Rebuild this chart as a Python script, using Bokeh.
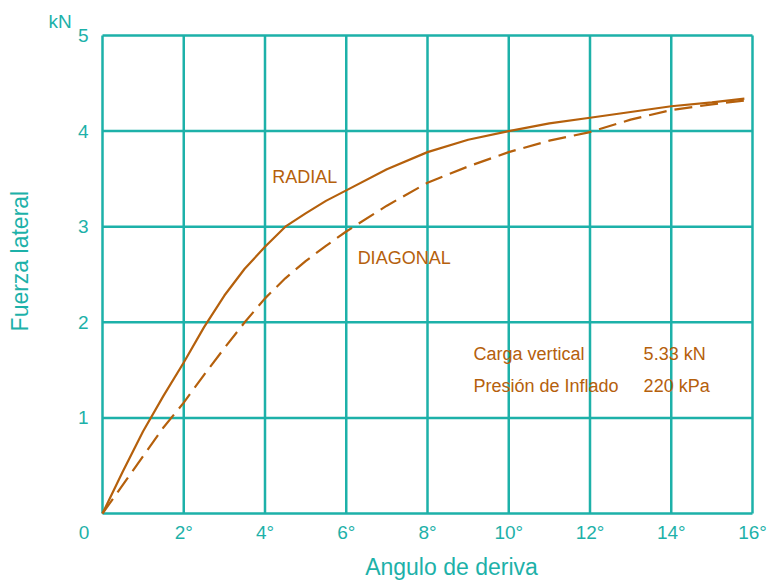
import math
from bokeh.plotting import figure
from bokeh.models import Range1d, ColumnDataSource
from bokeh.core.properties import value
from bokeh.embed import file_html
from bokeh.resources import INLINE

# Lateral force (kN) versus slip angle (degrees) for two tyre constructions
angle_deg = [0, 0.5, 1, 1.5, 2, 2.5, 3, 3.5, 4, 4.5, 5, 5.5, 6, 7, 8, 9, 10, 11, 12, 13, 14, 15, 15.8]
radial_kn = [0, 0.44, 0.86, 1.23, 1.58, 1.95, 2.28, 2.56, 2.79, 3.0, 3.14, 3.27, 3.38, 3.6,
             3.78, 3.91, 4.0, 4.08, 4.14, 4.2, 4.26, 4.3, 4.34]
diagonal_kn = [0, 0.3, 0.6, 0.9, 1.16, 1.45, 1.73, 2.0, 2.25, 2.46, 2.64, 2.8, 2.95, 3.22,
               3.46, 3.63, 3.78, 3.9, 3.99, 4.12, 4.22, 4.28, 4.32]

x_ticks = [2, 4, 6, 8, 10, 12, 14, 16]
x_tick_labels = ["2°", "4°", "6°", "8°", "10°", "12°", "14°", "16°"]
y_ticks = [1, 2, 3, 4, 5]
y_tick_labels = ["1", "2", "3", "4", "5"]
x_max, y_max = 16, 5

TEAL = "#1DB1A9"
BROWN = "#B5600C"
FONT = "Liberation Sans"

# The frame fills the whole canvas; the chart box spans 0..16 deg and 0..5 kN,
# leaving room around it for the hand-placed tick labels and titles.
p = figure(width=771, height=581,
           x_range=Range1d(-2.5108, 16.4677), y_range=Range1d(-0.7113, 5.3661),
           x_axis_location=None, y_axis_location=None,
           output_backend="svg", toolbar_location=None, min_border=0)
p.grid.visible = False
p.outline_line_color = None
p.background_fill_color = "white"
p.border_fill_color = "white"

# grid lines and the box around the chart
gx = [0] + x_ticks
gy = [0] + y_ticks
p.segment(x0=gx, y0=[0] * len(gx), x1=gx, y1=[y_max] * len(gx),
          line_color=TEAL, line_width=2.5)
p.segment(x0=[0] * len(gy), y0=gy, x1=[x_max] * len(gy), y1=gy,
          line_color=TEAL, line_width=2.5)

# curves
src = ColumnDataSource(dict(x=angle_deg, radial=radial_kn, diagonal=diagonal_kn))
p.line("x", "radial", source=src, line_color=BROWN, line_width=2.2)
p.line("x", "diagonal", source=src, line_color=BROWN, line_width=2.2, line_dash="18 8")


def texts(xs, ys, labels, color, size, align="left", baseline="middle", angle=0.0):
    p.text(x=xs, y=ys, text=labels, text_color=color, text_font=value(FONT),
           text_font_size=size, text_align=align, text_baseline=baseline, angle=angle)


# tick labels
texts(x_ticks, [-0.2] * len(x_ticks), x_tick_labels, TEAL, "19px", align="center")
texts([-0.345] * len(y_ticks), y_ticks, y_tick_labels, TEAL, "19px", align="right")
texts([-0.455], [-0.2], ["0"], TEAL, "19px", align="center")

# axis titles and unit
texts([-1.33], [5.15], ["kN"], TEAL, "19px")
texts([8.59], [-0.555], ["Angulo de deriva"], TEAL, "23px", align="center")
texts([-2.02], [2.64], ["Fuerza lateral"], TEAL, "23px", align="center", angle=math.pi / 2)

# curve labels
texts([4.18, 6.28], [3.62, 2.78], ["RADIAL", "DIAGONAL"], BROWN, "18px", baseline="top")

# test conditions
texts([9.13, 13.32, 9.13, 13.32], [1.67, 1.67, 1.33, 1.33],
      ["Carga vertical", "5.33 kN", "Presión de Inflado", "220 kPa"], BROWN, "18px")

open("out.html", "w").write(file_html(p, INLINE))
